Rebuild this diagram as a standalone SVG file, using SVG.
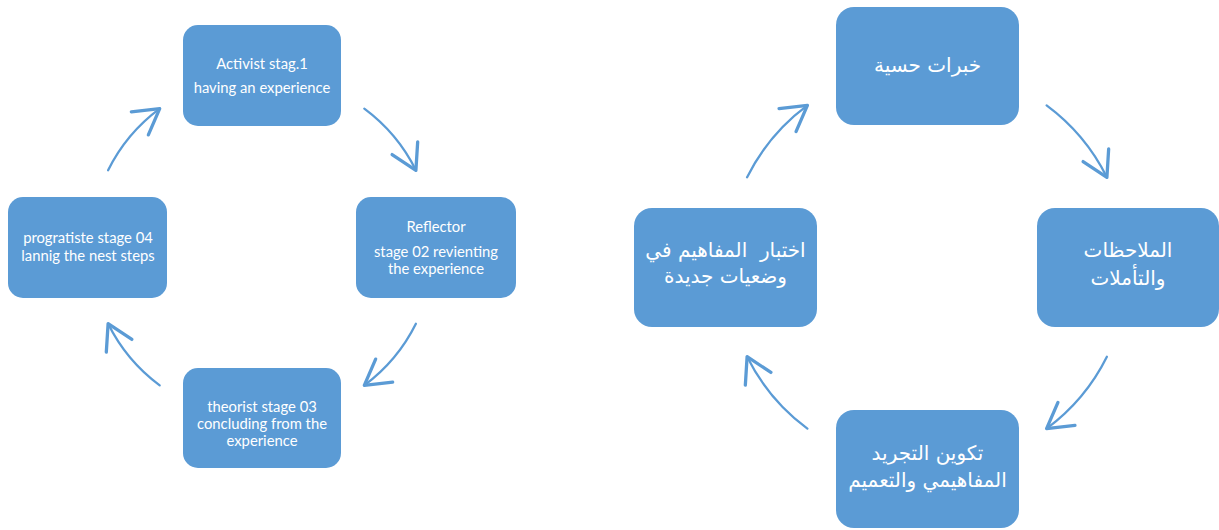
<svg xmlns="http://www.w3.org/2000/svg" width="1219" height="530" viewBox="0 0 1219 530">
<style>
.box{fill:#5B9BD5;}
.en{font-family:Lato,"Open Sans","Liberation Sans",sans-serif;font-size:14.8px;fill:#ffffff;text-anchor:middle;}
.ar{font-family:"DejaVu Sans","Liberation Sans",sans-serif;font-size:20px;fill:#ffffff;text-anchor:middle;}
.arc{fill:none;stroke:#5B9BD5;stroke-width:2.3;stroke-linecap:round;marker-end:url(#head);}
</style>
<defs>
<marker id="head" markerUnits="userSpaceOnUse" orient="auto" markerWidth="40" markerHeight="40" refX="0" refY="0" viewBox="-22 -14 26 28" overflow="visible">
<path d="M-17.3,-10 L0,0 L-17.3,10" fill="none" stroke="#5B9BD5" stroke-width="2.3" stroke-linecap="round" stroke-linejoin="round"/>
</marker>
</defs>
<rect width="1219" height="530" fill="#ffffff"/>
<g id="connectors">
<path class="arc" d="M364.3,108.7 A172,172 0 0 1 415.9,170.3"/>
<path class="arc" d="M415.9,323.7 A172,172 0 0 1 364.3,385.3"/>
<path class="arc" d="M159.7,385.3 A172,172 0 0 1 108.1,323.7"/>
<path class="arc" d="M108.1,170.3 A172,172 0 0 1 159.7,108.7"/>
<path class="arc" d="M1046.6,105.4 A201,201 0 0 1 1106.9,177.3"/>
<path class="arc" d="M1106.9,356.7 A201,201 0 0 1 1046.6,428.6"/>
<path class="arc" d="M807.4,428.6 A201,201 0 0 1 747.1,356.7"/>
<path class="arc" d="M747.1,177.3 A201,201 0 0 1 807.4,105.4"/>
</g>
<g id="activist">
<rect class="box" x="183" y="25" width="158" height="101" rx="15"/>
<text class="en" x="262" y="69">Activist stag.1</text>
<text class="en" x="262" y="93">having an experience</text>
</g>
<g id="reflector">
<rect class="box" x="356" y="197" width="160" height="101" rx="15"/>
<text class="en" x="436" y="232">Reflector</text>
<text class="en" x="436" y="257">stage 02 revienting</text>
<text class="en" x="436" y="274">the experience</text>
</g>
<g id="theorist">
<rect class="box" x="183" y="368" width="158" height="100" rx="15"/>
<text class="en" x="262" y="412">theorist stage 03</text>
<text class="en" x="262" y="429">concluding from the</text>
<text class="en" x="262" y="446">experience</text>
</g>
<g id="pragmatist">
<rect class="box" x="8" y="197" width="159" height="101" rx="15"/>
<text class="en" x="88" y="243">progratiste stage 04</text>
<text class="en" x="88" y="261">lannig the nest steps</text>
</g>
<g id="concrete">
<rect class="box" x="836" y="7" width="183" height="118" rx="18"/>
<text class="ar" x="927.5" y="72" direction="rtl">خبرات حسية</text>
</g>
<g id="observation">
<rect class="box" x="1037" y="208" width="182" height="119" rx="18"/>
<text class="ar" x="1128" y="257" direction="rtl">الملاحظات</text>
<text class="ar" x="1128" y="285" direction="rtl">والتأملات</text>
</g>
<g id="abstraction">
<rect class="box" x="836" y="410" width="183" height="118" rx="18"/>
<text class="ar" x="927.5" y="460" direction="rtl">تكوين التجريد</text>
<text class="ar" x="927.5" y="487" direction="rtl">المفاهيمي والتعميم</text>
</g>
<g id="experiment">
<rect class="box" x="634" y="208" width="183" height="119" rx="18"/>
<text class="ar" x="725.5" y="257" direction="rtl" xml:space="preserve">اختبار  المفاهيم في</text>
<text class="ar" x="725.5" y="283" direction="rtl">وضعيات جديدة</text>
</g>
</svg>
